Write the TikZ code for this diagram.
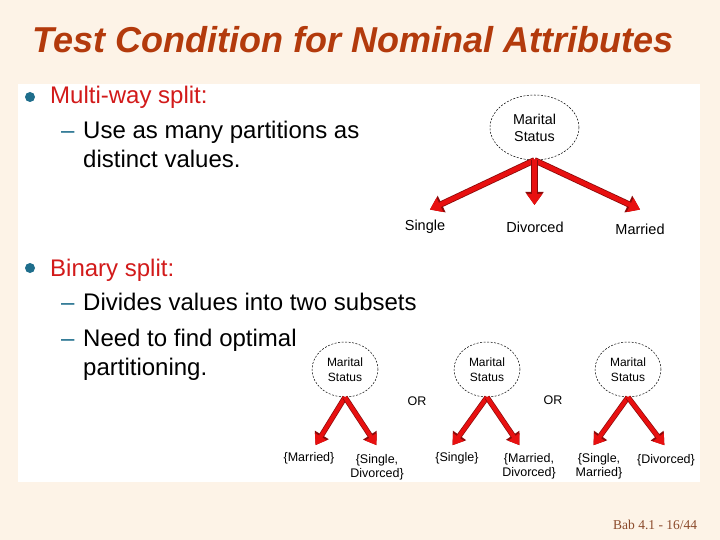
\documentclass[tikz,border=0pt]{standalone}
\usepackage{fontspec}
\setmainfont{Liberation Sans}
\newfontfamily\serifft{Liberation Serif}
\usetikzlibrary{shapes.geometric,arrows.meta}
\definecolor{bgcream}{HTML}{FDF3E7}
\definecolor{titlecol}{HTML}{B33A0C}
\definecolor{headred}{HTML}{D21A1A}
\definecolor{bulletblue}{HTML}{1F6E8C}
\definecolor{arrowred}{HTML}{E81010}
\definecolor{arrowdark}{HTML}{8A0A0A}
\definecolor{footcol}{HTML}{8B4A2B}
\tikzset{
  txt/.style={inner sep=0pt, anchor=base west, font=\fontsize{24}{28}\selectfont},
  head/.style={txt, text=headred},
  dashmark/.style={inner sep=0pt, anchor=base west, text=bulletblue, font=\fontsize{24}{28}\selectfont},
  bigell/.style={ellipse, draw, dashed, dash pattern=on 2pt off 1.5pt, line width=0.5pt, minimum width=89pt, minimum height=65pt, inner sep=0pt, align=center, font=\fontsize{14.3}{17}\selectfont},
  smallell/.style={ellipse, draw, dashed, dash pattern=on 2pt off 1.5pt, line width=0.5pt, minimum width=66pt, minimum height=55pt, inner sep=0pt, align=center, font=\fontsize{12}{14.5}\selectfont},
  biglab/.style={inner sep=0pt, font=\fontsize{14.5}{17}\selectfont},
  smalllab/.style={inner sep=0pt, align=center, font=\fontsize{12.5}{14.5}\selectfont},
  redarrow/.style={draw=arrowred, line width=4.6pt, shorten >=1pt,
    -{Triangle[width=15pt,length=11pt]},
    preaction={draw=arrowdark, line width=6.2pt, -{Triangle[width=17.5pt,length=13pt]}}},
  redarrowsm/.style={draw=arrowred, line width=4pt, shorten >=1pt,
    -{Triangle[width=13pt,length=10pt]},
    preaction={draw=arrowdark, line width=5.4pt, -{Triangle[width=15.5pt,length=12pt]}}}
}
\begin{document}
\begin{tikzpicture}[x=1pt,y=-1pt]
\useasboundingbox (0,0) rectangle (720,540);
\fill[bgcream] (0,0) rectangle (720,540);
\fill[white] (18,84) rectangle (700,482);

% title
\node[inner sep=0pt, anchor=base, text=titlecol, font=\fontsize{36}{40}\selectfont\bfseries\itshape] (title) at (353,53) {Test Condition for Nominal Attributes};

% bullets
\fill[bulletblue] (30,97) circle (5pt);
\fill[bulletblue] (30,268) circle (5pt);
\node[head] (h1) at (50,104) {Multi-way split:};
\node[dashmark] (d1) at (61,139) {–};
\node[txt] (t1) at (83,139) {Use as many partitions as};
\node[txt] (t1b) at (83,168) {distinct values.};
\node[head] (h2) at (50,276) {Binary split:};
\node[dashmark] (d2) at (61,310) {–};
\node[txt] (t2) at (83,310) {Divides values into two subsets};
\node[dashmark] (d3) at (61,346) {–};
\node[txt] (t3) at (83,346) {Need to find optimal};
\node[txt] (t3b) at (83,375) {partitioning.};

% multi-way tree
\node[bigell] (ms) at (534.5,127.5) {Marital\\Status};
\coordinate (e1) at (429,210);
\coordinate (e2) at (534.5,206);
\coordinate (e3) at (641,210);
\draw[redarrow] (ms.south) -- (e1);
\draw[redarrow] (ms.south) -- (e3);
\draw[redarrow] (ms.south) -- (e2);
\node[biglab] (l1) at (425,227) {Single};
\node[biglab] (l2) at (535,227) {Divorced};
\node[biglab] (l3) at (640,229) {Married};

% binary trees
\node[smallell] (b1) at (345,369.5) {Marital\\Status};
\node[smallell] (b2) at (487,369.5) {Marital\\Status};
\node[smallell] (b3) at (628,369.5) {Marital\\Status};
\coordinate (b1l) at (315,446);
\coordinate (b1r) at (377,446);
\coordinate (b2l) at (452,446);
\coordinate (b2r) at (520,446);
\coordinate (b3l) at (593,446);
\coordinate (b3r) at (665,446);
\draw[redarrowsm] (b1.south) -- (b1l);
\draw[redarrowsm] (b1.south) -- (b1r);
\draw[redarrowsm] (b2.south) -- (b2l);
\draw[redarrowsm] (b2.south) -- (b2r);
\draw[redarrowsm] (b3.south) -- (b3l);
\draw[redarrowsm] (b3.south) -- (b3r);

\node[smalllab] (or1) at (417,401) {OR};
\node[smalllab] (or2) at (553,400) {OR};

\node[smalllab] (m1) at (309,458) {\{Married\}};
\node[smalllab, anchor=north] (m2) at (377,454) {\{Single,\\Divorced\}};
\node[smalllab] (m3) at (457,458) {\{Single\}};
\node[smalllab, anchor=north] (m4) at (529,453) {\{Married,\\Divorced\}};
\node[smalllab, anchor=north] (m5) at (599,453) {\{Single,\\Married\}};
\node[smalllab] (m6) at (666,460) {\{Divorced\}};

% footer
\node[inner sep=0pt, anchor=base west, text=footcol, font=\serifft\fontsize{13.5}{16}\selectfont] (foot) at (613,529) {Bab 4.1 - 16/44};
\end{tikzpicture}
\end{document}
